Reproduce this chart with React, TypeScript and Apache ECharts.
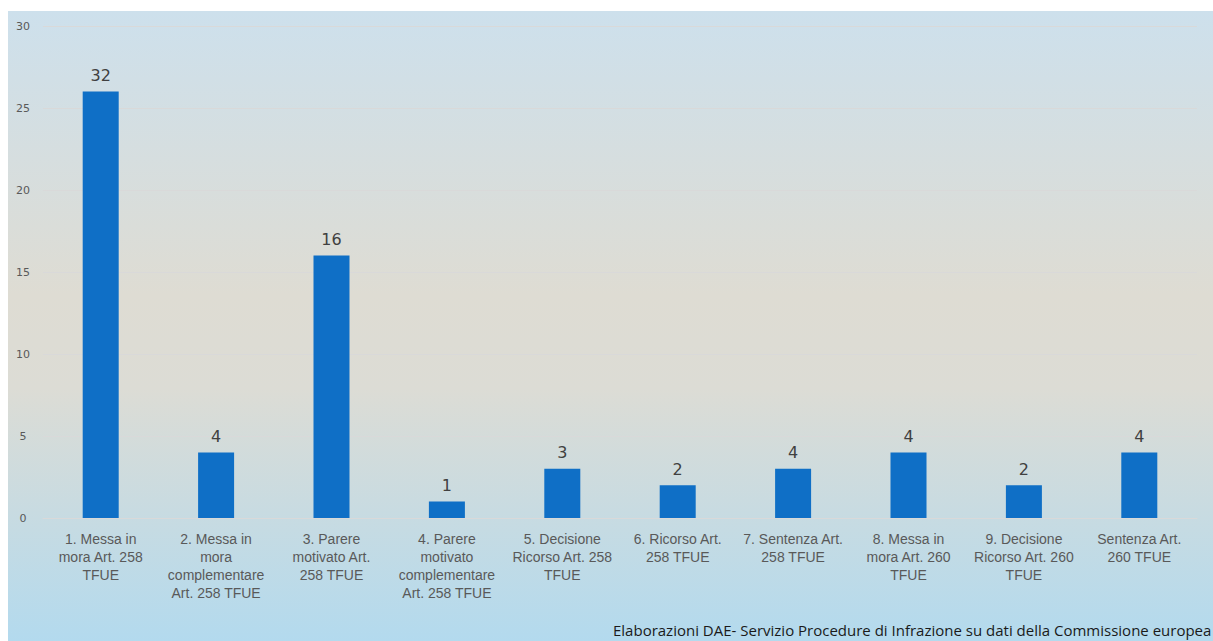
import React, { useEffect, useRef } from "react";
import * as echarts from "echarts";

const categories: string[] = [
  "1. Messa in\nmora Art. 258\nTFUE",
  "2. Messa in\nmora\ncomplementare\nArt. 258 TFUE",
  "3. Parere\nmotivato Art.\n258 TFUE",
  "4. Parere\nmotivato\ncomplementare\nArt. 258 TFUE",
  "5. Decisione\nRicorso Art. 258\nTFUE",
  "6. Ricorso Art.\n258 TFUE",
  "7. Sentenza Art.\n258 TFUE",
  "8. Messa in\nmora Art. 260\nTFUE",
  "9. Decisione\nRicorso Art. 260\nTFUE",
  "Sentenza Art.\n260 TFUE",
];

// bar heights as drawn
const barValues: number[] = [26, 4, 16, 1, 3, 2, 3, 4, 2, 4];
// data labels as printed above bars
const labelValues: number[] = [32, 4, 16, 1, 3, 2, 4, 4, 2, 4];

const yTicks = { min: 0, max: 30, interval: 5 };

const footerText =
  "Elaborazioni DAE- Servizio Procedure di Infrazione su dati della Commissione europea";

export default function App() {
  const ref = useRef<HTMLDivElement>(null);

  useEffect(() => {
    if (!ref.current) return;
    const chart = echarts.init(ref.current, null, { renderer: "svg" });
    chart.setOption({
      animation: false,
      backgroundColor: {
        type: "linear",
        x: 0,
        y: 0,
        x2: 0,
        y2: 1,
        colorStops: [
          { offset: 0, color: "#cde0ec" },
          { offset: 0.45, color: "#dedcd3" },
          { offset: 0.6, color: "#dcdcd5" },
          { offset: 1, color: "#b3daee" },
        ],
      },
      grid: { left: 35, right: 16, top: 15, bottom: 123, containLabel: false },
      xAxis: {
        type: "category",
        data: categories,
        axisLine: { show: true, lineStyle: { color: "#d9d9d9", width: 1 } },
        axisTick: { show: false },
        axisLabel: {
          interval: 0,
          margin: 12,
          color: "#595959",
          fontSize: 14,
          lineHeight: 18,
          fontFamily: "Liberation Sans, Arial, sans-serif",
        },
      },
      yAxis: {
        type: "value",
        min: yTicks.min,
        max: yTicks.max,
        interval: yTicks.interval,
        axisLine: { show: false },
        axisTick: { show: false },
        splitLine: { lineStyle: { color: "#d9d9d9", width: 1 } },
        axisLabel: {
          color: "#595959",
          fontSize: 11,
          margin: 20,
          align: "center",
          fontFamily: "DejaVu Sans, sans-serif",
        },
      },
      series: [
        {
          type: "bar",
          data: barValues.map((v, i) => ({
            value: v,
            label: { formatter: String(labelValues[i]) },
          })),
          barWidth: 36,
          itemStyle: { color: "#0f6fc6" },
          label: {
            show: true,
            position: "top",
            distance: 8,
            color: "#404040",
            fontSize: 16,
            fontFamily: "DejaVu Sans, sans-serif",
          },
        },
      ],
      graphic: [
        {
          type: "text",
          left: 605,
          top: 611,
          style: {
            text: footerText,
            fill: "#1a1a1a",
            fontSize: 15,
            fontFamily: "Open Sans, sans-serif",
          },
        },
      ],
    });
    return () => chart.dispose();
  }, []);

  return (
    <div
      ref={ref}
      style={{ position: "absolute", left: 8, top: 11, width: 1205, height: 630 }}
    />
  );
}
